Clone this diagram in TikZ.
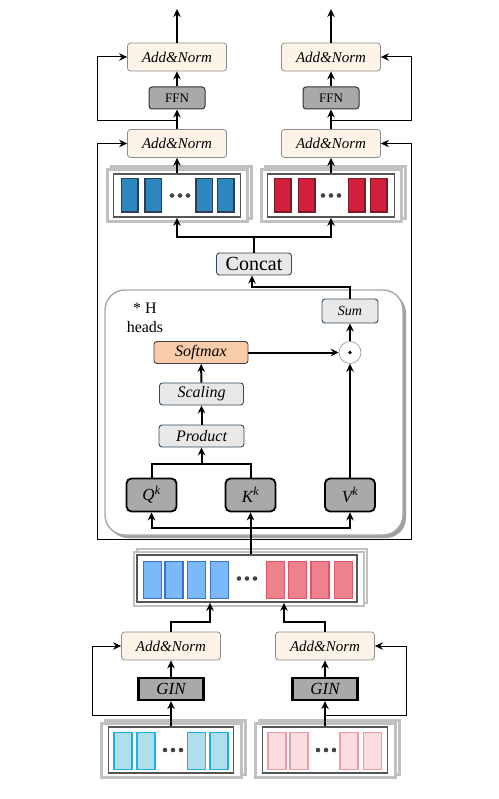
\documentclass[tikz,border=0pt]{standalone}
\usepackage{fontspec}
\setmainfont{Liberation Serif}
\usetikzlibrary{positioning,calc,arrows.meta,shapes,shadows}

\definecolor{cream}{HTML}{FDF4E7}
\definecolor{normedge}{HTML}{8C8C8C}
\definecolor{lightbox}{HTML}{E8E8E8}
\definecolor{slate}{HTML}{2F4B5C}
\definecolor{peach}{HTML}{F8CBAA}
\definecolor{projgray}{HTML}{ABA8A8}
\definecolor{shellgray}{HTML}{C0C0C0}
\definecolor{framegray}{HTML}{555555}
\definecolor{dotgray}{HTML}{444444}
\definecolor{boxgray}{HTML}{A8A8A8}
\definecolor{shadowgray}{HTML}{A0A0A0}
\definecolor{topblue}{HTML}{2E86C1}
\definecolor{navy}{HTML}{2C3E50}
\definecolor{topred}{HTML}{D21F3C}
\definecolor{wine}{HTML}{7B1B2A}
\definecolor{midblue}{HTML}{7ABAF8}
\definecolor{midblueedge}{HTML}{3C6FC8}
\definecolor{midred}{HTML}{EE818E}
\definecolor{midrededge}{HTML}{E05468}
\definecolor{cyanfill}{HTML}{AEDFEA}
\definecolor{cyanedge}{HTML}{1CB0EA}
\definecolor{pinkfill}{HTML}{FBDCE0}
\definecolor{pinkedge}{HTML}{EF9BA6}

\tikzset{%
  arrow/.style = {
    -{Stealth[length=8pt, width=7.5pt]},
    line width = #1,
  },
  arrow/.default = {2pt},
  link/.style = {
    line width = 2pt,
  },
  norm/.style = {
    rounded corners = 3pt,
    fill = cream,
    draw = normedge,
    line width = 0.8pt,
    minimum width = 99pt,
    minimum height = 28pt,
    inner sep = 0pt,
    font = \fontsize{15}{18}\selectfont\itshape,
  },
  tbox/.style = {
    rounded corners = 3pt,
    fill = #1,
    draw = slate,
    line width = 0.9pt,
    minimum height = 22pt,
    inner sep = 0pt,
    font = \fontsize{16}{19}\selectfont\itshape,
  },
  tbox/.default = {lightbox},
  ffn/.style = {
    rounded corners = 3pt,
    fill = projgray,
    draw = black!80,
    line width = 1pt,
    minimum width = 56pt,
    minimum height = 22pt,
    inner sep = 0pt,
    font = \fontsize{13}{15}\selectfont,
  },
  proj/.style = {
    rounded corners = 5pt,
    fill = projgray,
    draw = black,
    line width = 1.8pt,
    minimum width = 50pt,
    minimum height = 33pt,
    inner sep = 0pt,
    font = \fontsize{17}{20}\selectfont\itshape,
  },
  gin/.style = {
    fill = projgray,
    draw = black,
    line width = 2.2pt,
    minimum width = 65pt,
    minimum height = 22pt,
    inner sep = 0pt,
    font = \fontsize{17}{20}\selectfont\itshape,
  },
  heads/.style = {
    rounded corners = 20pt,
    fill = white,
    draw = boxgray,
    line width = 1.4pt,
    minimum width = 298pt,
    minimum height = 245pt,
    drop shadow = {shadow xshift=3pt, shadow yshift=-3pt,
                   fill=shadowgray, opacity=1},
  },
  odot/.style = {
    circle,
    fill = white,
    draw = gray,
    line width = 0.5pt,
    minimum size = 22pt,
    inner sep = 0pt,
  },
  shell/.style = {
    fill = white,
    draw = shellgray,
    line width = 3pt,
    minimum width = #1,
    minimum height = 54pt,
  },
  seq/.style = {
    draw = framegray,
    line width = 1.8pt,
    minimum width = #1,
    minimum height = 45pt,
    inner sep = 0pt,
  },
  cell/.style 2 args = {
    fill = #1,
    draw = #2,
    line width = 1.5pt,
    minimum width = 18pt,
    minimum height = 37pt,
    inner sep = 0pt,
  },
}

\begin{document}
\begin{tikzpicture}[x=1pt, y=-1pt]
\useasboundingbox (0,0) rectangle (498,799);

% multi-head block
\node(mha) [heads] at (254,412.5) {};
\node(hh) [align=center, font=\fontsize{16}{19}\selectfont] at (145,318) {* H\\heads};

\node(q) [proj] at (151.5,495) {Q\textsuperscript{k}};
\node(k) [proj] at (250.5,495) {K\textsuperscript{k}};
\node(v) [proj] at (350,495) {V\textsuperscript{k}};
\node(prod)  [tbox, minimum width=85pt] at (201.5,436) {Product};
\node(scale) [tbox, minimum width=84pt] at (201.5,394) {Scaling};
\node(soft)  [tbox=peach, draw=black!75, minimum width=94pt] at (201,352.5) {Softmax};
\node(dot)   [odot] at (350,352.5) {};
\fill (dot) circle (1.8pt);
\node(sum)   [tbox, minimum width=56pt, minimum height=24pt, font=\fontsize{14}{17}\selectfont\itshape] at (350,311) {Sum};
\node(concat) [tbox, minimum width=75pt, font=\fontsize{20}{24}\selectfont] at (254,264) {Concat};

% encoder outputs
\node(hbs2) [shell=140pt, minimum height=52pt] at (181,193) {};
\node(hbs1) [shell=140pt, minimum height=52pt] at (177,196) {};
\node(hb)   [seq=127pt, minimum height=43pt] at (177,195.5) {};
\foreach \i/\x in {1/129.5, 2/153, 3/204, 4/225.5}
  \node(hb\i) [cell={topblue}{navy}, minimum width=16.5pt, minimum height=33.5pt] at (\x,195.5) {};
\foreach \x in {172,180,188}
  \fill[dotgray] (\x,195.5) circle (2.3pt);

\node(hrs2) [shell=140pt, minimum height=52pt] at (335,193) {};
\node(hrs1) [shell=140pt, minimum height=52pt] at (331,196) {};
\node(hr)   [seq=127pt, minimum height=43pt] at (331,195.5) {};
\foreach \i/\x in {1/282.5, 2/306.5, 3/356.5, 4/378.5}
  \node(hr\i) [cell={topred}{wine}, minimum width=16.5pt, minimum height=33.5pt] at (\x,195.5) {};
\foreach \x in {323,331,339}
  \fill[dotgray] (\x,195.5) circle (2.3pt);

\node(an1) [norm] at (177,143.5) {Add\&Norm};
\node(an2) [norm] at (331,143.5) {Add\&Norm};
\node(ffn1) [ffn] at (177,98) {FFN};
\node(ffn2) [ffn] at (331,98) {FFN};
\node(an3) [norm] at (177,57) {Add\&Norm};
\node(an4) [norm] at (331,57) {Add\&Norm};
\coordinate (out1) at (177,9);
\coordinate (out2) at (331,9);

% combined sequence
\node(cs2)  [shell=230pt, line width=2pt] at (252,576) {};
\node(cs1)  [shell=230pt, line width=2pt] at (249,579) {};
\node(comb) [seq=220pt, minimum height=47pt] at (247,578.5) {};
\foreach \i/\x in {1/152.5, 2/174, 3/196.5, 4/219.5}
  \node(cb\i) [cell={midblue}{midblueedge}] at (\x,580) {};
\foreach \i/\x in {1/275.5, 2/297.5, 3/320, 4/343.5}
  \node(cr\i) [cell={midred}{midrededge}] at (\x,580) {};
\foreach \x in {239,247,255}
  \fill[dotgray] (\x,578.5) circle (2.3pt);

% graph encoders
\node(an5) [norm] at (171,646) {Add\&Norm};
\node(an6) [norm] at (325,646) {Add\&Norm};
\node(gin1) [gin] at (171,689) {GIN};
\node(gin2) [gin] at (325,689) {GIN};

\node(ils2) [shell=140pt] at (175,747) {};
\node(ils1) [shell=140pt] at (171,750) {};
\node(inL)  [seq=125pt, minimum height=46pt] at (171,750) {};
\foreach \i/\x in {1/123, 2/146, 3/196.5, 4/219}
  \node(il\i) [cell={cyanfill}{cyanedge}] at (\x,751) {};
\foreach \x in {165,173,181}
  \fill[dotgray] (\x,750) circle (2.3pt);

\node(irs2) [shell=140pt] at (329,747) {};
\node(irs1) [shell=140pt] at (325,750) {};
\node(inR)  [seq=125pt, minimum height=46pt] at (325,750) {};
\foreach \i/\x in {1/277, 2/299, 3/349, 4/372.5}
  \node(ir\i) [cell={pinkfill}{pinkedge}] at (\x,751) {};
\foreach \x in {318,326,334}
  \fill[dotgray] (\x,750) circle (2.3pt);

% connectors
\coordinate (sk1) at (177,121);
\coordinate (sk2) at (331,121);
\coordinate (sk3) at (171,715);
\coordinate (sk4) at (325,715);
\coordinate (res) at (250,539);
\coordinate (kv)  at (250,528);
\coordinate (qk)  at (201.5,464);

\draw[arrow] (inL) -- (gin1);
\draw[arrow] (inR) -- (gin2);
\draw[arrow] (gin1) -- (an5);
\draw[arrow] (gin2) -- (an6);
\draw[arrow=1pt] (sk3) -- ++(-79,0) |- (an5.west);
\draw[arrow=1pt] (sk4) -- ++(81,0) |- (an6.east);
\draw[arrow] (an5.north) -- ++(0,-10) -| ([xshift=-37pt]comb.south);
\draw[arrow] (an6.north) -- ++(0,-10) -| ([xshift=37pt]comb.south);

\draw[arrow] (k.south |- comb.north) -- (k.south);
\draw[arrow] (kv) -| (q.south);
\draw[arrow] (kv) -| (v.south);
\draw[link] (q.north) -- ++(0,-14) -| (k.north);
\draw[arrow] (qk) -- (prod);
\draw[arrow] (prod) -- (scale);
\draw[arrow] (scale) -- (soft);
\draw[arrow] (soft) -- (dot);
\draw[arrow] (v) -- (dot);
\draw[arrow] (dot) -- (sum);
\draw[arrow] (sum.north) -- ++(0,-12) -| ([xshift=-2pt]concat.south);
\draw[arrow] (concat.north) -- ++(0,-16) -| (hb.south);
\draw[arrow] (concat.north) -- ++(0,-16) -| (hr.south);

\draw[arrow=1pt] (res) -- ++(-153,0) |- (an1.west);
\draw[arrow=1pt] (res) -- ++(161,0) |- (an2.east);
\draw[arrow] (hb) -- (an1);
\draw[arrow] (hr) -- (an2);
\draw[arrow] (an1) -- (ffn1);
\draw[arrow] (an2) -- (ffn2);
\draw[arrow=1pt] (sk1) -- ++(-80,0) |- (an3.west);
\draw[arrow=1pt] (sk2) -- ++(80,0) |- (an4.east);
\draw[arrow] (ffn1) -- (an3);
\draw[arrow] (ffn2) -- (an4);
\draw[arrow] (an3) -- (out1);
\draw[arrow] (an4) -- (out2);
\end{tikzpicture}
\end{document}
